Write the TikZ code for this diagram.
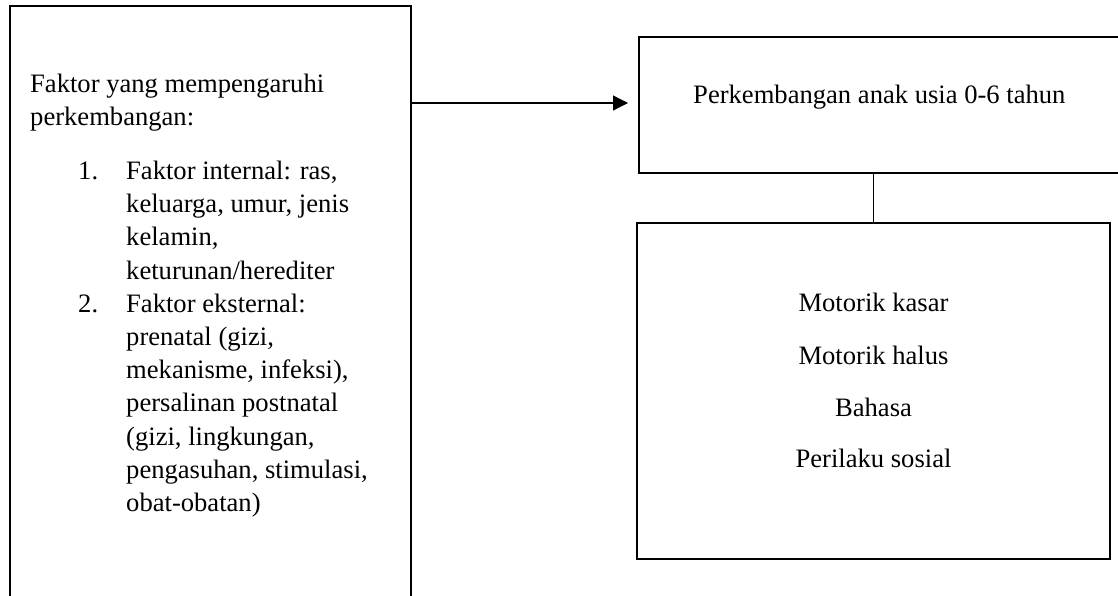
\documentclass[tikz,border=0pt]{standalone}
\usepackage{fontspec}
\setmainfont{Liberation Serif}
\usetikzlibrary{arrows.meta}
\tikzset{
  boxshape/.style={draw, line width=1.6pt, inner sep=0pt, outer sep=0pt, anchor=north west},
  txt/.style={inner sep=0pt, anchor=base west, font=\fontsize{26.6}{33.2}\selectfont},
  ctxt/.style={inner sep=0pt, anchor=base, font=\fontsize{26.6}{33.2}\selectfont},
  thinline/.style={line width=1.2pt},
}
\begin{document}
\begin{tikzpicture}[x=1pt,y=-1pt]
\useasboundingbox (0,0) rectangle (1118,595);
\clip (0,0) rectangle (1118,595);
% boxes
\node[boxshape, minimum width=401pt, minimum height=640pt] (fbox) at (10,6) {};
\node[boxshape, minimum width=520pt, minimum height=136pt] (tbox) at (639,37) {};
\node[boxshape, minimum width=473pt, minimum height=336pt] (mbox) at (637,223) {};
% left texts
\node[txt] (h1) at (30,92) {Faktor yang mempengaruhi};
\node[txt] (h2) at (30,125) {perkembangan:};
\node[txt] (n1) at (78,179) {1.};
\node[txt] (l1) at (126,179) {Faktor internal: ras,};
\node[txt] (l2) at (126,212) {keluarga, umur, jenis};
\node[txt] (l3) at (126,245) {kelamin,};
\node[txt] (l4) at (126,279) {keturunan/herediter};
\node[txt] (n2) at (78,312) {2.};
\node[txt] (l5) at (126,312) {Faktor eksternal:};
\node[txt] (l6) at (126,345) {prenatal (gizi,};
\node[txt] (l7) at (126,378) {mekanisme, infeksi),};
\node[txt] (l8) at (126,411) {persalinan postnatal};
\node[txt] (l9) at (126,445) {(gizi, lingkungan,};
\node[txt] (l10) at (126,478) {pengasuhan, stimulasi,};
\node[txt] (l11) at (126,511) {obat-obatan)};
% top box text
\node[txt] (tt) at (693,103) {Perkembangan anak usia 0-6 tahun};
% lower box texts
\node[ctxt] (m1) at (873.5,311) {Motorik kasar};
\node[ctxt] (m2) at (873.5,364) {Motorik halus};
\node[ctxt] (m3) at (873.5,416) {Bahasa};
\node[ctxt] (m4) at (873.5,467) {Perilaku sosial};
% connectors
\coordinate (astart) at (fbox.east |- 0,103);
\coordinate (aend) at (tbox.west |- 0,103);
\draw[thinline, -{Triangle[length=15pt,width=15pt]}, shorten >=11pt] (astart) -- (aend);
\draw[thinline] (tbox.south -| mbox.north) -- (mbox.north);
\end{tikzpicture}
\end{document}
